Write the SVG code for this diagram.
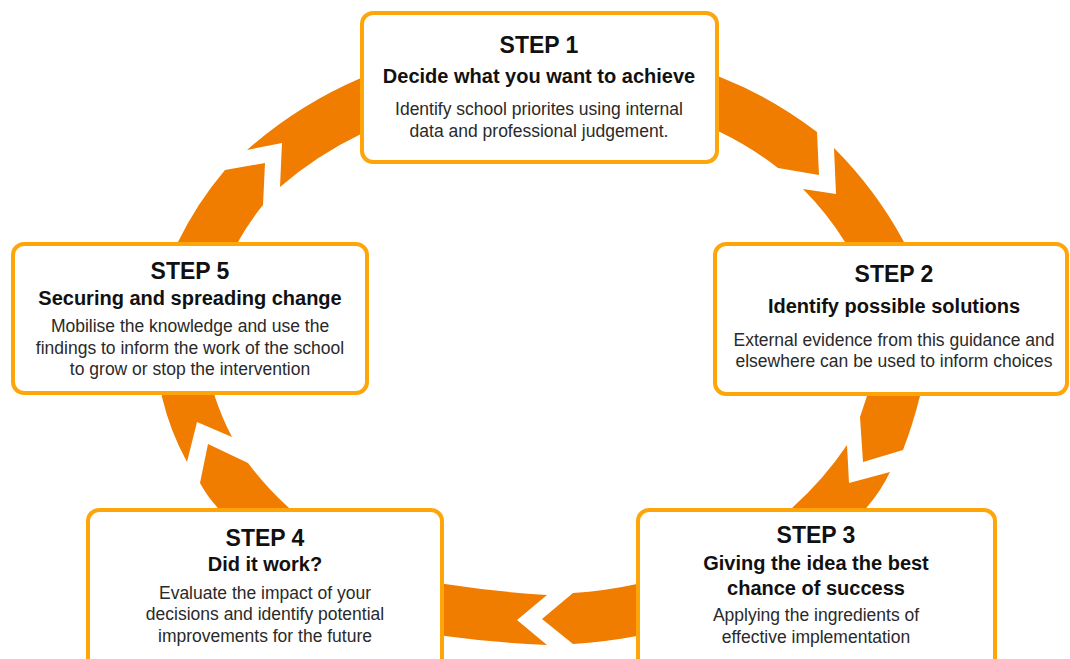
<svg xmlns="http://www.w3.org/2000/svg" width="1070" height="659" viewBox="0 0 1070 659">
<style>
.ring{fill:#F07C00;}
.box{fill:#FFFFFF;stroke:#FEA50A;stroke-width:4;}
.t{font-family:"Liberation Sans",Arial,sans-serif;text-anchor:middle;fill:#111111;}
.step{font-size:23px;font-weight:bold;}
.sub{font-size:20px;font-weight:bold;}
.body{font-size:17.5px;fill:#2a2a2a;}
</style>
<rect x="0" y="0" width="1070" height="659" fill="#FFFFFF"/>
<g id="connectors">
<path class="ring" d="M 168,262 L 178,242 Q 197,203 225,170 L 265,163 L 263,205 Q 249,222 238,242 L 228,262 Z"/>
<path class="ring" d="M 247,150 Q 298,105 361,78 L 376,72 L 376,128 L 361,134 Q 317,155 280,187 L 282,143 Z"/>
<path class="ring" d="M 705,71 L 720,77 Q 771,97 817,132 L 819,175 L 778,168 Q 751,147 720,132 L 705,126 Z"/>
<path class="ring" d="M 834,148 Q 876,190 904,242 L 912,262 L 853,262 L 845,242 Q 827,213 803,189 L 836,194 Z"/>
<path class="ring" d="M 872,378 L 924,378 L 920,396 Q 913,424 903,450 L 863,462 L 860,417 L 867,396 Z"/>
<path class="ring" d="M 847,445 L 849,483 L 890,472 Q 881,491 867,507 L 858,522 L 780,522 L 793,507 Q 824,479 847,445 Z"/>
<path class="ring" d="M 652,581 L 637,584 Q 605,591 573,593 L 542,619 L 573,644 Q 605,642 637,636 L 652,633 Z"/>
<path class="ring" d="M 547,595 Q 497,592 445,584 L 430,581 L 430,633 L 445,636 Q 497,643 547,645 L 517,620 Z"/>
<path class="ring" d="M 200,483 L 208,444 L 248,463 Q 266,487 288,507 L 304,522 L 226,522 L 217,507 Q 207,496 200,483 Z"/>
<path class="ring" d="M 160,378 L 162,397 Q 170,431 187,462 L 197,422 L 232,437 Q 222,418 215,397 L 212,378 Z"/>
</g>
<g id="step1">
<rect class="box" x="362" y="13" width="355" height="149" rx="11"/>
<text class="t step" x="539" y="53">STEP 1</text>
<text class="t sub" x="539" y="83">Decide what you want to achieve</text>
<text class="t body" x="539" y="115">Identify school priorites using internal</text>
<text class="t body" x="539" y="137">data and professional judgement.</text>
</g>
<g id="step2">
<rect class="box" x="715" y="244" width="352" height="150" rx="11"/>
<text class="t step" x="894" y="282">STEP 2</text>
<text class="t sub" x="894" y="313">Identify possible solutions</text>
<text class="t body" x="894" y="346">External evidence from this guidance and</text>
<text class="t body" x="894" y="367">elsewhere can be used to inform choices</text>
</g>
<g id="step3">
<rect class="box" x="638" y="510" width="357" height="165" rx="11"/>
<text class="t step" x="816" y="543">STEP 3</text>
<text class="t sub" x="816" y="570">Giving the idea the best</text>
<text class="t sub" x="816" y="595">chance of success</text>
<text class="t body" x="816" y="621">Applying the ingredients of</text>
<text class="t body" x="816" y="643">effective implementation</text>
</g>
<g id="step4">
<rect class="box" x="88" y="510" width="354" height="165" rx="11"/>
<text class="t step" x="265" y="546">STEP 4</text>
<text class="t sub" x="265" y="571">Did it work?</text>
<text class="t body" x="265" y="599">Evaluate the impact of your</text>
<text class="t body" x="265" y="620">decisions and identify potential</text>
<text class="t body" x="265" y="642">improvements for the future</text>
</g>
<g id="step5">
<rect class="box" x="13" y="244" width="354" height="149" rx="11"/>
<text class="t step" x="190" y="279">STEP 5</text>
<text class="t sub" x="190" y="305">Securing and spreading change</text>
<text class="t body" x="190" y="332">Mobilise the knowledge and use the</text>
<text class="t body" x="190" y="354">findings to inform the work of the school</text>
<text class="t body" x="190" y="375">to grow or stop the intervention</text>
</g>
</svg>
